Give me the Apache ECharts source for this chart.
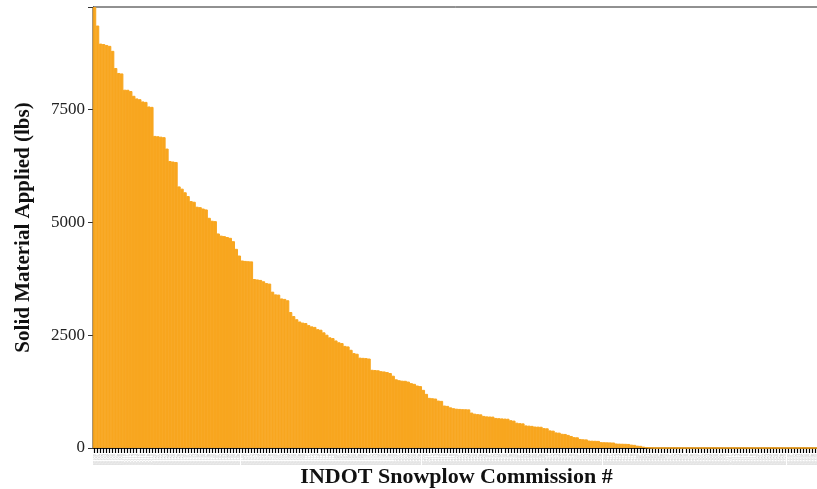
<!DOCTYPE html>
<html>
<head>
<meta charset="utf-8">
<script src="https://cdn.jsdelivr.net/npm/echarts@6/dist/echarts.min.js"></script>
<style>html,body{margin:0;padding:0;background:#fff}#c{width:817px;height:489px}</style>
</head>
<body>
<div id="c"></div>
<script>
// Solid material applied (lbs), sorted descending, one value per snowplow
var materialLbs = [
 9760, 9350, 8950, 8940, 8920, 8900, 8790, 8410, 8300, 8290,
 7930, 7928, 7900, 7795, 7737, 7720, 7670, 7660, 7559, 7550,
 6907, 6900, 6890, 6880, 6627, 6352, 6340, 6330, 5790, 5740,
 5660, 5576, 5465, 5450, 5340, 5330, 5300, 5280, 5095, 5030,
 5021, 4748, 4700, 4689, 4670, 4652, 4577, 4408, 4260, 4150,
 4140, 4134, 4130, 3740, 3730, 3720, 3690, 3650, 3639, 3460,
 3400, 3395, 3310, 3300, 3270, 3010, 2920, 2850, 2800, 2775,
 2766, 2720, 2692, 2680, 2630, 2618, 2560, 2507, 2450, 2433,
 2380, 2340, 2322, 2260, 2248, 2174, 2100, 2086, 2000, 1995,
 1990, 1980, 1731, 1725, 1720, 1700, 1694, 1680, 1660, 1600,
 1520, 1500, 1490, 1487, 1470, 1435, 1420, 1383, 1370, 1287,
 1198, 1110, 1102, 1095, 1050, 1043, 940, 932, 900, 881,
 870, 865, 860, 858, 855, 784, 760, 750, 745, 710,
 700, 697, 695, 665, 660, 655, 651, 648, 615, 606,
 560, 550, 545, 500, 495, 490, 475, 473, 470, 440,
 436, 390, 384, 345, 340, 315, 311, 290, 266, 240,
 237, 200, 193, 190, 165, 162, 160, 158, 130, 128,
 126, 124, 122, 100, 97, 95, 93, 90, 75, 70,
 52, 48, 30, 15, 8, 3, 0, 0, 0, 0,
 0, 0, 0, 0, 0, 0, 0, 0, 0, 0,
 0, 0, 0, 0, 0, 0, 0, 0, 0, 0,
 0, 0, 0, 0, 0, 0, 0, 0, 0, 0,
 0, 0, 0, 0, 0, 0, 0, 0, 0, 0,
 0, 0, 0, 0, 0, 0, 0, 0, 0, 0,
 0
];
// Commission numbers (illegible in the reference; placeholder unit IDs)
var commissionIds = [];
for (var k = 0; k < materialLbs.length; k++) { commissionIds.push(String(60100 + k)); }
var yTicks = [0, 2500, 5000, 7500];
var yMax = 9760;

var chart = echarts.init(document.getElementById('c'), null, {renderer: 'canvas'});
chart.setOption({
  animation: false,
  backgroundColor: '#ffffff',
  grid: {left: 93, right: -3, top: 7, bottom: 41, show: true, borderColor: '#222', borderWidth: 1,
         backgroundColor: 'transparent', outerBoundsMode: 'none', containLabel: false},
  xAxis: {
    type: 'category',
    data: commissionIds,
    name: 'INDOT Snowplow Commission #',
    nameLocation: 'middle',
    nameGap: 18,
    nameMoveOverlap: false,
    nameTextStyle: {fontFamily: 'Liberation Serif', fontWeight: 'bold', fontSize: 22, color: '#111', verticalAlign: 'top'},
    axisLine: {show: true, lineStyle: {color: '#222', width: 1}},
    axisTick: {show: true, interval: 0, length: 5, alignWithLabel: true, lineStyle: {color: '#000', width: 1.2}},
    axisLabel: {interval: 0, rotate: 90, fontSize: 4.5, color: '#b8b8b8', margin: 6, fontFamily: 'Liberation Serif'},
    splitLine: {show: false}
  },
  yAxis: {
    type: 'value',
    min: 0,
    max: yMax,
    interval: 2500,
    name: 'Solid Material Applied (lbs)',
    nameLocation: 'middle',
    nameGap: 59,
    nameMoveOverlap: false,
    nameRotate: 90,
    nameTextStyle: {fontFamily: 'Liberation Serif', fontWeight: 'bold', fontSize: 21, color: '#111'},
    axisLine: {show: true, lineStyle: {color: '#222', width: 1}},
    axisTick: {show: true, length: 5, lineStyle: {color: '#333'}},
    axisLabel: {
      fontFamily: 'Liberation Serif', fontSize: 17, color: '#222', margin: 8,
      formatter: function (v) { return yTicks.indexOf(v) >= 0 ? String(v) : ''; }
    },
    splitLine: {show: false}
  },
  series: [{
    type: 'bar',
    data: materialLbs,
    barWidth: '115%',
    barGap: '-100%',
    itemStyle: {color: '#F8A61F', borderColor: '#F8A61F', borderWidth: 1}
  }]
});
</script>
</body>
</html>
